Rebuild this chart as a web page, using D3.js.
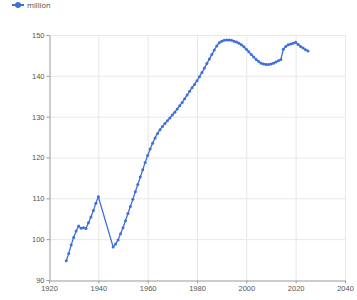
<!DOCTYPE html>
<meta charset="utf-8">
<title>Population (million)</title>
<script src="https://cdn.jsdelivr.net/npm/d3@7"></script>
<style>
    body { margin: 0; background: #fff; }
    svg { font-family: "Open Sans", "Noto Sans", sans-serif; }
    .grid line { stroke: #e8e8e8; }
    .axis text { fill: #555; font-size: 7.5px; }
    .axis line, .axis path { stroke: #999; }
    .legend text { fill: #444; font-size: 7.5px; }
</style>
<svg width="357" height="300"></svg>
<script>
    // data
    const seriesName = "million";
    const years = [
        1927, 1928, 1929, 1930, 1931, 1932, 1933, 1934, 1935, 1936, 1937, 1938, 1939, 1940,
        1946, 1947, 1948, 1949, 1950, 1951, 1952, 1953, 1954, 1955, 1956, 1957, 1958, 1959,
        1960, 1961, 1962, 1963, 1964, 1965, 1966, 1967, 1968, 1969,
        1970, 1971, 1972, 1973, 1974, 1975, 1976, 1977, 1978, 1979,
        1980, 1981, 1982, 1983, 1984, 1985, 1986, 1987, 1988, 1989,
        1990, 1991, 1992, 1993, 1994, 1995, 1996, 1997, 1998, 1999,
        2000, 2001, 2002, 2003, 2004, 2005, 2006, 2007, 2008, 2009,
        2010, 2011, 2012, 2013, 2014, 2015, 2016, 2017, 2018, 2019,
        2020, 2021, 2022, 2023, 2024, 2025
    ];
    const million = [
        94.7, 96.5, 98.6, 100.4, 102.0, 103.2, 102.7, 102.8, 102.6, 104.0, 105.4, 107.0, 108.8, 110.4,
        98.1, 98.8, 99.8, 101.3, 102.8, 104.5, 106.3, 108.0, 109.8, 111.6, 113.4, 115.2, 117.0, 118.8,
        120.5, 122.1, 123.5, 124.8, 125.9, 126.8, 127.6, 128.3, 129.0, 129.7,
        130.4, 131.1, 131.9, 132.7, 133.5, 134.4, 135.3, 136.2, 137.1, 137.9,
        138.8, 139.8, 140.8, 141.9, 143.0, 144.1, 145.2, 146.3, 147.3, 148.1,
        148.5, 148.7, 148.8, 148.8, 148.7, 148.5, 148.3, 148.0, 147.6, 147.1,
        146.5, 145.9, 145.2, 144.6, 144.0, 143.5, 143.1, 142.9, 142.8, 142.8,
        142.9, 143.1, 143.4, 143.7, 144.0, 146.5, 147.2, 147.6, 147.8, 148.0,
        148.2, 147.7, 147.2, 146.8, 146.4, 146.1
    ];
    const xTicks = [1920, 1940, 1960, 1980, 2000, 2020, 2040];
    const yTicks = [90, 100, 110, 120, 130, 140, 150];

    const data = years.map((y, i) => ({ year: y, value: million[i] }));

    const svg = d3.select("svg");
    const width = +svg.attr("width");
    const height = +svg.attr("height");
    const margin = { top: 35, right: 12, bottom: 20, left: 49 };
    const chartWidth = width - margin.left - margin.right;
    const chartHeight = height - margin.top - margin.bottom;
    const color = "#3f6fdb";

    const x = d3.scaleLinear().domain([1920, 2040]).range([0, chartWidth]);
    const y = d3.scaleLinear().domain([90, 150]).range([chartHeight, 0]);

    const g = svg.append("g")
        .attr("transform", `translate(${margin.left},${margin.top})`);

    // grid
    g.append("g").attr("class", "grid")
        .selectAll("line.h").data(yTicks.slice(1)).join("line")
        .attr("x1", 0).attr("x2", chartWidth)
        .attr("y1", d => y(d) + 0.5).attr("y2", d => y(d) + 0.5);
    g.append("g").attr("class", "grid")
        .selectAll("line.v").data(xTicks.slice(1)).join("line")
        .attr("y1", 0).attr("y2", chartHeight)
        .attr("x1", d => x(d) + 0.5).attr("x2", d => x(d) + 0.5);

    // axes
    g.append("g").attr("class", "axis")
        .attr("transform", `translate(0,${chartHeight + 0.5})`)
        .call(d3.axisBottom(x).tickValues(xTicks).tickFormat(d3.format("d"))
            .tickSizeInner(3).tickSizeOuter(0).tickPadding(2));
    g.append("g").attr("class", "axis")
        .attr("transform", "translate(0.5,0)")
        .call(d3.axisLeft(y).tickValues(yTicks)
            .tickSizeInner(3).tickSizeOuter(0).tickPadding(2));

    // line
    const line = d3.line().x(d => x(d.year)).y(d => y(d.value));
    g.append("path").datum(data)
        .attr("fill", "none")
        .attr("stroke", color)
        .attr("stroke-width", 1.3)
        .attr("d", line);
    g.selectAll("circle.pt").data(data).join("circle")
        .attr("class", "pt")
        .attr("cx", d => x(d.year))
        .attr("cy", d => y(d.value))
        .attr("r", 1.5)
        .attr("fill", color);

    // legend
    const lg = svg.append("g").attr("class", "legend").attr("transform", "translate(12,5)");
    lg.append("line").attr("x1", 0).attr("x2", 12).attr("stroke", color).attr("stroke-width", 2);
    lg.append("circle").attr("cx", 6).attr("r", 3).attr("fill", color);
    lg.append("text").attr("x", 15).attr("dy", "0.35em").text(seriesName);
</script>
